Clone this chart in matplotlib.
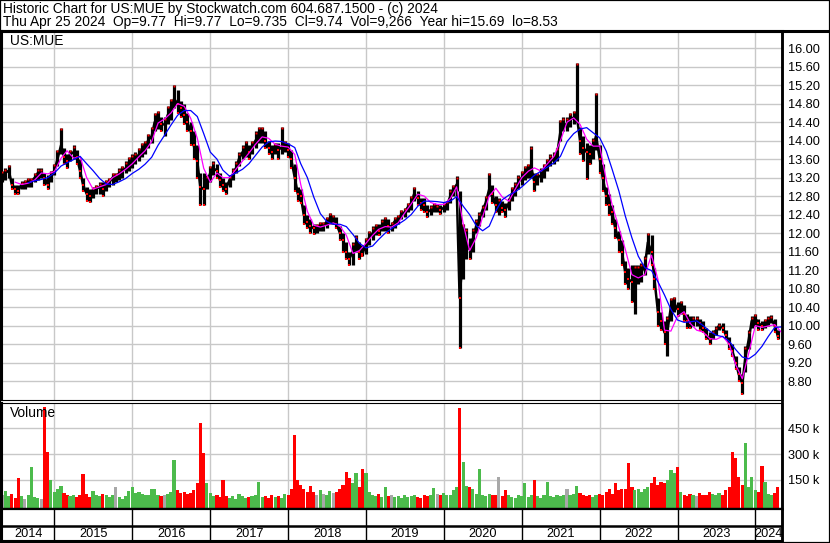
import numpy as np
import pandas as pd
import matplotlib
matplotlib.use("Agg")
import matplotlib.pyplot as plt
from matplotlib.patches import Rectangle
from matplotlib.lines import Line2D

W, H = 830, 543
plt.rcParams['font.family'] = ['Liberation Sans', 'DejaVu Sans']
FS = 9.2
FS_HEAD = 9.9

header1 = "Historic Chart for US:MUE by Stockwatch.com 604.687.1500 - (c) 2024"
header2 = ("Thu Apr 25 2024  Op=9.77  Hi=9.77  Lo=9.735  Cl=9.74  Vol=9,266  "
           "Year hi=15.69  lo=8.53")
symbol = "US:MUE"
years = list(range(2014, 2025))
price_ticks = [16.00, 15.60, 15.20, 14.80, 14.40, 14.00, 13.60, 13.20, 12.80,
               12.40, 12.00, 11.60, 11.20, 10.80, 10.40, 10.00, 9.60, 9.20, 8.80]
vol_ticks = [150000, 300000, 450000]
vol_labels = ["150 k", "300 k", "450 k"]

# semi-monthly bars, 2014-05-01 .. 2024-04-15
closes = [
    13.25, 13.3, 13.35, 13.05, 12.95, 12.92, 13.05, 13.05, 13.1, 13.12, 13.2, 13.3, 13.3, 13.2, 13.05, 13.25,
    13.35, 13.6, 13.9, 13.65, 13.55, 13.7, 13.75, 13.65, 13.35, 13.05, 12.85, 12.8, 12.9, 12.95, 13.0, 12.95,
    13.05, 13.1, 13.2, 13.2, 13.3, 13.35, 13.4, 13.5,
    13.55, 13.6, 13.7, 13.8, 13.85, 14.0, 14.1, 14.4, 14.45, 14.35, 14.35, 14.55, 14.65, 14.9, 14.8, 14.7,
    14.55, 14.4, 14.2, 13.9, 13.55, 13.0, 12.95, 13.1,
    13.3, 13.4, 13.35, 13.15, 13.05, 12.95, 13.15, 13.25, 13.4, 13.6, 13.75, 13.8, 13.75, 13.85, 14.0, 14.1,
    14.15, 14.0, 13.85, 13.75, 13.85, 13.8, 13.85, 13.9,
    13.8, 13.6, 13.2, 12.85, 12.8, 12.4, 12.25, 12.15, 12.1, 12.1, 12.15, 12.15, 12.25, 12.3, 12.3, 12.2,
    12.0, 11.85, 11.6, 11.45, 11.6, 11.75, 11.6, 11.55,
    11.75, 11.9, 12.0, 12.1, 12.05, 12.15, 12.2, 12.15, 12.15, 12.25, 12.3, 12.4, 12.45, 12.55, 12.65, 12.85,
    12.75, 12.65, 12.6, 12.45, 12.5, 12.55, 12.55, 12.5,
    12.55, 12.6, 12.8, 12.9, 13.05, 10.6, 11.6, 11.75, 11.65, 11.85, 12.15, 12.3, 12.5, 12.65, 12.95, 12.85,
    12.6, 12.6, 12.55, 12.5, 12.65, 12.85, 12.95, 13.1,
    13.2, 13.3, 13.35, 13.4, 13.1, 13.2, 13.25, 13.35, 13.45, 13.55, 13.6, 13.7, 14.2, 14.35, 14.35, 14.45,
    14.5, 14.55, 14.0, 13.85, 13.75, 13.7, 13.85, 14.1,
    13.6, 13.2, 12.8, 12.6, 12.45, 12.1, 11.85, 11.6, 11.15, 11.0, 10.95, 11.0, 11.1, 11.15, 11.3, 11.8,
    11.6, 11.0, 10.3, 10.1, 9.85, 9.9, 10.4, 10.5,
    10.35, 10.4, 10.25, 10.1, 10.05, 10.1, 10.1, 10.05, 9.95, 9.8, 9.7, 9.8, 9.9, 10.0, 9.95, 9.8,
    9.6, 9.45, 9.2, 8.95, 8.75, 9.3, 9.7, 10.1,
    10.15, 10.05, 10.0, 10.05, 10.1, 10.15, 10.0, 9.78,
]
highs = [
    13.35, 13.4, 13.47, 13.2, 13.05, 13.05, 13.12, 13.15, 13.2, 13.2, 13.3, 13.4, 13.4, 13.3, 13.25, 13.35,
    13.5, 13.8, 14.28, 13.85, 13.7, 13.8, 13.9, 13.8, 13.6, 13.2, 13.0, 12.95, 13.0, 13.05, 13.1, 13.1,
    13.15, 13.2, 13.3, 13.3, 13.4, 13.45, 13.55, 13.65,
    13.7, 13.75, 13.85, 13.95, 14.0, 14.15, 14.3, 14.6, 14.65, 14.5, 14.5, 14.75, 14.9, 15.21, 15.1, 14.85,
    14.8, 14.6, 14.4, 14.2, 13.9, 13.3, 13.3, 13.25,
    13.45, 13.55, 13.5, 13.3, 13.2, 13.1, 13.25, 13.4, 13.55, 13.75, 13.9, 14.0, 13.9, 14.0, 14.2, 14.3,
    14.3, 14.2, 14.0, 13.9, 13.95, 13.95, 14.3, 14.0,
    13.95, 13.8, 13.5, 13.0, 12.95, 12.6, 12.4, 12.3, 12.2, 12.2, 12.25, 12.25, 12.35, 12.44, 12.4, 12.35,
    12.15, 12.0, 11.8, 11.6, 11.8, 11.95, 11.8, 11.75,
    11.9, 12.05, 12.15, 12.2, 12.2, 12.3, 12.35, 12.3, 12.25, 12.35, 12.4, 12.5, 12.55, 12.65, 12.8, 13.0,
    12.9, 12.75, 12.75, 12.6, 12.6, 12.65, 12.62, 12.6,
    12.65, 12.7, 12.95, 13.05, 13.23, 12.9, 12.2, 12.1, 11.9, 12.1, 12.3, 12.45, 12.6, 12.8, 13.3, 13.05,
    12.8, 12.75, 12.7, 12.65, 12.75, 13.0, 13.1, 13.25,
    13.35, 13.45, 13.5, 13.88, 13.3, 13.3, 13.4, 13.5, 13.6, 13.7, 13.75, 13.85, 14.45, 14.5, 14.5, 14.6,
    14.65, 15.68, 14.3, 14.1, 13.95, 13.9, 14.05, 15.03,
    13.9, 13.5, 13.0, 12.85, 12.6, 12.3, 12.05, 11.85, 11.4, 11.25, 11.3, 11.3, 11.3, 11.35, 11.5, 12.0,
    11.95, 11.25, 10.6, 10.3, 10.1, 10.2, 10.6, 10.62,
    10.5, 10.53, 10.45, 10.25, 10.2, 10.2, 10.2, 10.15, 10.1, 9.95, 9.85, 9.9, 9.98, 10.05, 10.05, 9.9,
    9.75, 9.6, 9.35, 9.1, 8.95, 9.55, 9.9, 10.2,
    10.25, 10.15, 10.1, 10.15, 10.2, 10.22, 10.15, 9.9,
]
lows = [
    13.1, 13.15, 13.2, 12.95, 12.85, 12.84, 12.95, 12.95, 13.0, 13.0, 13.1, 13.15, 13.2, 13.05, 12.95, 13.1,
    13.25, 13.45, 13.7, 13.5, 13.4, 13.55, 13.6, 13.5, 13.2, 12.9, 12.7, 12.68, 12.75, 12.85, 12.85, 12.8,
    12.9, 13.0, 13.05, 13.1, 13.15, 13.2, 13.3, 13.35,
    13.4, 13.5, 13.55, 13.65, 13.7, 13.85, 13.95, 14.2, 14.25, 14.2, 14.1, 14.35, 14.45, 14.7, 14.6, 14.5,
    14.35, 14.2, 13.9, 13.6, 13.2, 12.6, 12.6, 12.95,
    13.1, 13.25, 13.2, 13.0, 12.9, 12.84, 13.0, 13.15, 13.3, 13.45, 13.6, 13.65, 13.6, 13.7, 13.85, 13.95,
    13.95, 13.85, 13.7, 13.6, 13.7, 13.6, 13.7, 13.75,
    13.65, 13.4, 12.9, 12.7, 12.65, 12.2, 12.1, 12.0, 11.98, 12.0, 12.05, 12.05, 12.1, 12.2, 12.2, 12.1,
    11.85, 11.6, 11.45, 11.3, 11.3, 11.6, 11.45, 11.5,
    11.55, 11.75, 11.85, 11.95, 11.95, 12.05, 12.05, 12.0, 12.05, 12.1, 12.2, 12.3, 12.35, 12.45, 12.5, 12.7,
    12.6, 12.5, 12.45, 12.35, 12.4, 12.45, 12.45, 12.42,
    12.45, 12.5, 12.65, 12.8, 12.9, 9.52, 11.0, 11.45, 11.45, 11.6, 12.0, 12.15, 12.35, 12.5, 12.8, 12.65,
    12.45, 12.4, 12.45, 12.35, 12.5, 12.7, 12.8, 12.95,
    13.05, 13.15, 13.2, 13.2, 12.9, 13.05, 13.1, 13.2, 13.35, 13.45, 13.5, 13.55, 14.0, 14.2, 14.2, 14.3,
    14.35, 14.4, 13.7, 13.55, 13.18, 13.5, 13.6, 13.8,
    13.3, 12.9, 12.6, 12.4, 12.2, 11.9, 11.6, 11.3, 10.9, 10.8, 10.5, 10.24, 10.9, 10.95, 11.1, 11.55,
    11.3, 10.8, 10.0, 9.9, 9.6, 9.34, 10.1, 10.3,
    10.2, 10.25, 10.1, 9.95, 9.95, 10.0, 9.98, 9.9, 9.85, 9.7, 9.6, 9.7, 9.8, 9.9, 9.85, 9.7,
    9.5, 9.35, 9.05, 8.8, 8.51, 9.0, 9.5, 9.95,
    10.0, 9.9, 9.9, 9.95, 10.0, 10.05, 9.85, 9.7,
]
# volume per half month, thousands of shares
volume_k = [
    60, 85, 55, 70, 45, 160, 55, 40, 60, 225, 50, 45, 40, 575, 310, 150,
    80, 95, 115, 75, 60, 55, 65, 50, 60, 187, 70, 50, 85, 60, 55, 70, 60, 50, 60, 110, 50, 40, 55, 85,
    110, 75, 80, 70, 60, 65, 100, 95, 60, 55, 60, 70, 80, 265, 90, 75, 80, 70, 75, 90, 130, 480, 305, 130,
    75, 55, 60, 50, 150, 55, 45, 55, 40, 70, 55, 45, 50, 55, 60, 140, 50, 55, 45, 60, 50, 55, 45, 70,
    60, 95, 410, 150, 120, 95, 80, 115, 80, 60, 90, 70, 60, 85, 75, 80, 100, 120, 195, 160, 130, 190, 110, 215,
    190, 80, 60, 55, 70, 50, 110, 55, 60, 50, 55, 45, 60, 50, 55, 60, 50, 45, 65, 55, 60, 105, 70, 60,
    75, 65, 60, 90, 110, 570, 255, 115, 110, 100, 70, 215, 60, 55, 70, 65, 60, 165, 55, 90, 60, 50, 45, 60,
    55, 135, 50, 60, 150, 55, 45, 60, 140, 55, 50, 60, 55, 65, 96, 60, 70, 115, 75, 60, 55, 65, 50, 60,
    70, 60, 80, 95, 70, 135, 90, 100, 95, 250, 110, 90, 95, 80, 100, 110, 130, 165, 120, 140, 130, 150, 205, 190,
    225, 80, 65, 55, 70, 60, 55, 75, 60, 65, 80, 70, 60, 75, 65, 90, 110, 313, 280, 165, 120, 367, 110, 165,
    90, 80, 230, 140, 70, 60, 75, 110,
]
# moving averages, monthly: magenta from 2014-07, blue from 2014-09
ma_short = [
    13.1, 13.05, 13.08, 13.15, 13.3, 13.28, 13.33, 13.62, 13.78, 13.62, 13.65, 13.2, 12.95, 13.0,
    13.05, 13.2, 13.28, 13.38, 13.5, 13.65, 13.78, 13.98, 14.38, 14.47, 14.6, 14.8, 14.74, 14.48, 14.05, 13.4,
    13.1, 13.3, 13.2, 13.2, 13.38, 13.56, 13.73, 13.92,
    14.08, 14.05, 13.92, 13.88, 13.86, 13.7, 13.05, 12.47, 12.17, 12.13, 12.17, 12.22, 12.15, 11.95, 11.56, 11.62,
    11.78, 11.95, 12.08, 12.14, 12.13, 12.22, 12.43, 12.63,
    12.84, 12.8, 12.66, 12.62, 12.62, 12.75, 13.0, 12.2, 11.62, 11.9, 12.35, 12.8, 12.97, 12.78, 12.69, 12.95,
    13.2, 13.34, 13.41, 13.34, 13.5, 13.66, 14.0, 14.4,
    14.49, 14.35, 14.03, 13.88, 13.88, 13.15, 12.6, 12.12, 11.65, 11.1, 11.03, 11.1, 11.52, 11.0, 9.9, 9.88,
    10.2, 10.3, 10.05, 9.9, 9.86, 9.72, 9.7, 9.77,
    9.59, 9.15, 8.85, 9.4, 10.0, 9.96, 9.99, 10.02, 9.86,
]
ma_long = [
    13.09, 13.13, 13.16, 13.2, 13.3, 13.45, 13.52, 13.59, 13.66, 13.5, 13.35, 13.18,
    13.06, 13.05, 13.11, 13.18, 13.29, 13.38, 13.49, 13.64, 13.9, 14.12, 14.34, 14.55, 14.65, 14.65, 14.52, 14.15,
    13.75, 13.6, 13.36, 13.23, 13.3, 13.38, 13.5, 13.68,
    13.86, 13.97, 13.99, 13.98, 13.93, 13.85, 13.5, 13.2, 12.78, 12.42, 12.25, 12.19, 12.19, 12.14, 11.97, 11.78,
    11.68, 11.72, 11.86, 12.0, 12.1, 12.19, 12.28, 12.4,
    12.58, 12.69, 12.69, 12.68, 12.66, 12.69, 12.79, 12.58, 12.4, 12.16, 12.05, 12.15, 12.48, 12.72, 12.82, 12.89,
    13.0, 13.13, 13.25, 13.34, 13.43, 13.52, 13.66, 13.98,
    14.15, 14.25, 14.28, 14.17, 14.06, 13.77, 13.37, 12.91, 12.37, 11.9, 11.5, 11.25, 11.19, 10.95, 10.66, 10.35,
    10.12, 10.07, 10.08, 10.1, 10.0, 9.88, 9.79, 9.76,
    9.66, 9.48, 9.32, 9.28, 9.38, 9.55, 9.76, 9.96, 9.97,
]

dates = pd.date_range("2014-05-01", periods=len(closes), freq="SMS")
ma_short_dates = pd.date_range("2014-07-01", periods=len(ma_short), freq="MS")
ma_long_dates = pd.date_range("2014-09-01", periods=len(ma_long), freq="MS")
closes = np.array(closes)
highs = np.array(highs)
lows = np.array(lows)
vol = np.array(volume_k) * 1000.0

x0, x1 = pd.Timestamp("2014-04-30"), pd.Timestamp("2024-05-05")
year_starts = [pd.Timestamp(f"{y}-01-01") for y in years[1:]]
GRID = "#c8c8c8"


def box(left, top, right, bottom):
    return [left / W, 1 - bottom / H, (right - left) / W, (bottom - top) / H]


fig = plt.figure(figsize=(W / 100, H / 100), dpi=100)

fig.text(3 / W, 1 - 8.5 / H, header1, fontsize=FS_HEAD, va="center", ha="left")
fig.text(3 / W, 1 - 22 / H, header2, fontsize=FS_HEAD, va="center", ha="left")

# price panel
ax = fig.add_axes(box(2, 31, 782, 400))
ax.set_xlim(x0, x1)
ax.set_ylim(8.39, 16.37)
for d in year_starts:
    ax.axvline(d, color=GRID, lw=1.0, zorder=0)
for p in price_ticks:
    ax.axhline(p, color=GRID, lw=1.0, zorder=0)
ax.vlines(dates, lows, highs, color="black", lw=2.3, zorder=2)
ax.plot(dates, closes, color="black", lw=1.8, zorder=2)
down = np.r_[False, closes[1:] < closes[:-1]]
ax.plot(dates[down], closes[down], "s", color="red", ms=1.7, mew=0, zorder=3)
ax.plot(dates[down], lows[down], "s", color="red", ms=1.5, mew=0, zorder=3)
ax.plot(dates[~down], highs[~down] - 0.03, "s", color="red", ms=1.4, mew=0, zorder=3)
ax.plot(ma_short_dates, ma_short, color="#ff00ff", lw=0.9, zorder=4)
ax.plot(ma_long_dates, ma_long, color="#0000ff", lw=0.9, zorder=4)
ax.text(8 / 780, 1 - 10 / 369, symbol, transform=ax.transAxes, fontsize=FS_HEAD,
        va="center", ha="left")
ax.set_xticks([])
ax.yaxis.tick_right()
ax.set_yticks(price_ticks)
ax.set_yticklabels([f"{p:.2f}" for p in price_ticks], fontsize=FS)
ax.tick_params(axis="y", length=0, pad=4)
for side, w in [("top", 2.2), ("right", 1.8), ("left", 1.5), ("bottom", 0.8)]:
    ax.spines[side].set_linewidth(w)

# volume panel
axv = fig.add_axes(box(2, 403, 782, 509))
axv.set_xlim(x0, x1)
vbase = -18600
axv.set_ylim(vbase, 596500)
for d in year_starts:
    axv.axvline(d, color=GRID, lw=1.0, zorder=0)
for v in vol_ticks:
    axv.axhline(v, color=GRID, lw=1.0, zorder=0)
chg = np.r_[0.0, np.diff(closes)]
colors = np.where(chg < 0, "#ff0000", np.where(chg > 0, "#4cbb4c", "#a8a8a8"))
axv.bar(dates, vol - vbase, bottom=vbase, width=15.2, color=colors, lw=0, zorder=2)
axv.text(8 / 780, 1 - 10 / 106, "Volume", transform=axv.transAxes, fontsize=FS_HEAD,
         va="center", ha="left")
axv.set_xticks([])
axv.yaxis.tick_right()
axv.set_yticks(vol_ticks)
axv.set_yticklabels(vol_labels, fontsize=FS)
axv.tick_params(axis="y", length=0, pad=4)
for side, w in [("top", 0.8), ("right", 1.8), ("left", 1.5), ("bottom", 1.6)]:
    axv.spines[side].set_linewidth(w)

# date strip with year labels
axt = fig.add_axes(box(2, 509, 782, 541))
axt.set_xlim(x0, x1)
axt.set_ylim(0, 1)
axt.axhline(15 / 32, color="black", lw=1.8)
for d in year_starts:
    axt.axvline(d, color="black", lw=1.0)
edges = [x0] + year_starts + [x1]
for y, a, b in zip(years, edges[:-1], edges[1:]):
    axt.text(a + (b - a) / 2, 7 / 32, str(y), fontsize=FS, ha="center", va="center")
axt.set_xticks([])
axt.set_yticks([])
for side, w in [("top", 1.6), ("right", 1.8), ("left", 1.5), ("bottom", 1.5)]:
    axt.spines[side].set_linewidth(w)

# outer frame and header rule
fig.add_artist(Line2D([0, 1], [1 - 30.5 / H] * 2, color="black", lw=2.2))
fig.add_artist(Line2D([782 / W] * 2, [1 - 541 / H, 1 - 31 / H], color="black", lw=1.8))
fig.add_artist(Rectangle((0, 0), 1, 1, transform=fig.transFigure, fill=False,
                         ec="black", lw=1.6))

fig.savefig("out.png", dpi=100)
